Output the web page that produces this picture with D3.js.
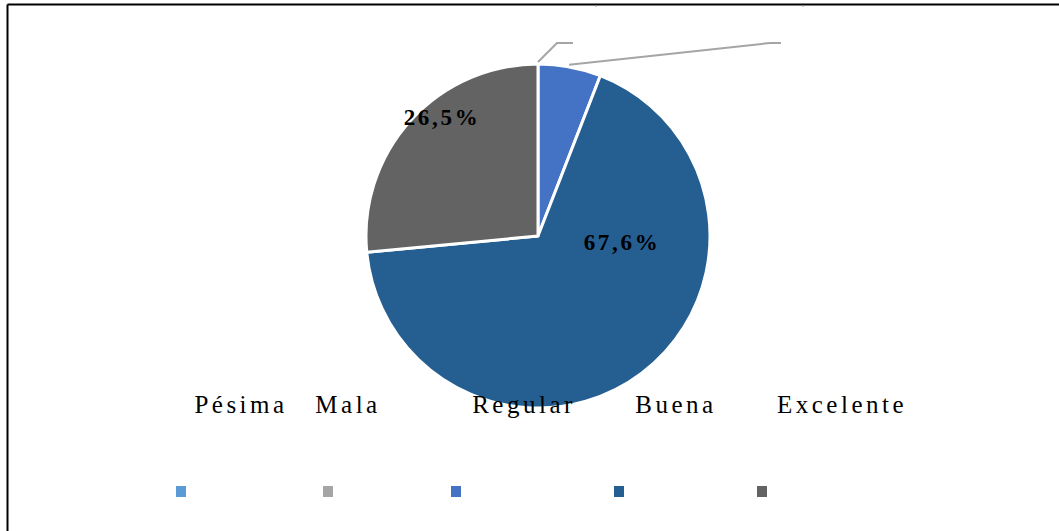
<!DOCTYPE html>
<html><head><meta charset="utf-8">
<script src="https://cdn.jsdelivr.net/npm/d3@7"></script>
<style>body{margin:0;background:#fff}svg{display:block}</style>
</head><body>
<script>
const categories = ["Pésima","Mala","Regular","Buena","Excelente"];
const values = [0, 0, 5.9, 67.6, 26.5];
const valueLabels = ["", "", "", "67,6%", "26,5%"];
const colors = ["#5B9BD5","#A5A5A5","#4472C4","#255E91","#636363"];

// layout
const W = 1059, H = 531;
const cx = 538, cy = 236, R = 172;
const legendTextX = [241, 348, 524, 676, 842];
const legendTextY = 413;
const legendSwatchX = [176, 323, 451, 614, 757];
const legendSwatchY = 486;

const svg = d3.select("body").append("svg").attr("width", W).attr("height", H);

// frame
svg.append("line").attr("x1",7.5).attr("y1",4.5).attr("x2",W).attr("y2",4.5).attr("stroke","#000").attr("stroke-width",2);
svg.append("line").attr("x1",7.5).attr("y1",4.5).attr("x2",7.5).attr("y2",H).attr("stroke","#000").attr("stroke-width",2);
[596, 803].forEach(x => svg.append("line").attr("x1",x).attr("x2",x).attr("y1",5).attr("y2",7).attr("stroke","#999"));

const pie = d3.pie().sort(null).value(d => d)(values);
const arc = d3.arc().innerRadius(0).outerRadius(R);
const g = svg.append("g").attr("transform", `translate(${cx},${cy})`);

g.selectAll("path").data(pie).join("path")
  .attr("d", arc)
  .attr("fill", (d,i) => colors[i])
  .attr("stroke", "#fff").attr("stroke-width", 3).attr("stroke-linejoin","round");

// leader lines for zero-value slices
const leaderStartAngle = [0, 0.18];
const leaderElbow = [[19, -193], [232, -193]];
const leaderEnd = [[35, -193], [243, -193]];
[0,1].forEach(i => {
  const a = leaderStartAngle[i];
  const sx = Math.sin(a) * (R + 2), sy = -Math.cos(a) * (R + 2);
  g.append("polyline")
    .attr("points", `${sx},${sy} ${leaderElbow[i][0]},${leaderElbow[i][1]} ${leaderEnd[i][0]},${leaderEnd[i][1]}`)
    .attr("fill","none").attr("stroke","#A5A5A5").attr("stroke-width",2);
});

// value labels
const labelPos = [null, null, null, [84, 14], [-96, -111]];
pie.forEach((d,i) => {
  if (!valueLabels[i]) return;
  g.append("text")
    .attr("x", labelPos[i][0]).attr("y", labelPos[i][1])
    .attr("text-anchor","middle")
    .attr("font-family","'Liberation Serif', 'Times New Roman', serif")
    .attr("font-weight","bold").attr("font-size", 23)
    .attr("letter-spacing", 2.7)
    .attr("fill","#000")
    .text(valueLabels[i]);
});

// legend labels
categories.forEach((c,i) => {
  svg.append("text")
    .attr("x", legendTextX[i]).attr("y", legendTextY)
    .attr("text-anchor","middle")
    .attr("font-family","'Liberation Serif', 'Times New Roman', serif")
    .attr("font-size", 25).attr("letter-spacing", 3.5)
    .attr("fill","#000")
    .text(c);
  svg.append("rect")
    .attr("x", legendSwatchX[i]).attr("y", legendSwatchY)
    .attr("width", 10).attr("height", 11)
    .attr("fill", colors[i]);
});
</script>
</body></html>
